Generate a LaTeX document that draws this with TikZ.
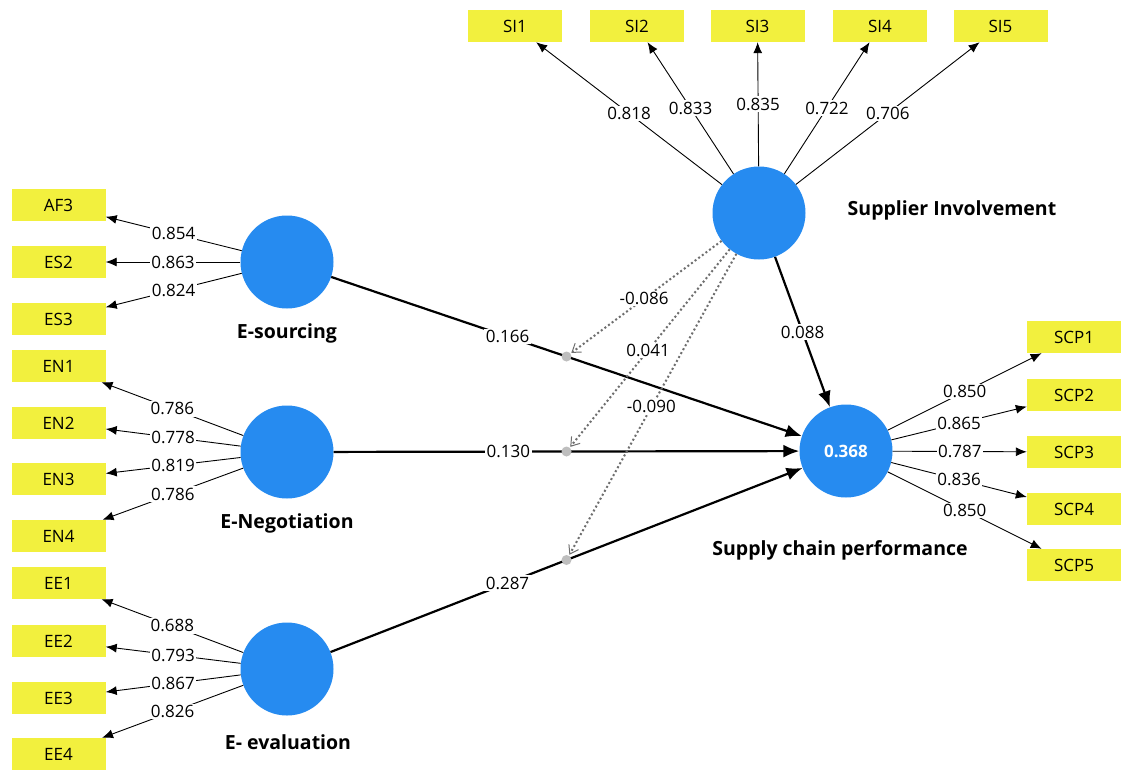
\documentclass[tikz,border=0pt]{standalone}
\usepackage{fontspec}
\setmainfont{Open Sans}
\usetikzlibrary{arrows.meta,calc}
\definecolor{indy}{RGB}{242,240,62}
\definecolor{lvb}{RGB}{38,139,240}
\definecolor{modg}{RGB}{110,110,110}
\tikzset{
 ind/.style={rectangle, fill=indy, minimum width=94pt, minimum height=32pt, inner sep=0pt, font=\fontsize{17}{19}\selectfont},
 lv/.style={circle, fill=lvb, minimum size=93pt, inner sep=0pt},
 lvname/.style={font=\fontsize{19.5}{22}\selectfont\bfseries},
 load/.style={draw=black, line width=0.9pt, -{Latex[length=11pt,width=9pt]}},
 struct/.style={draw=black, line width=2.2pt, -{Latex[length=16pt,width=13pt]}},
 modl/.style={draw=modg, line width=2pt, dash pattern=on 2pt off 2.5pt, -{Straight Barb[length=8pt,width=11pt,line width=1pt]}, shorten >=6pt},
 val/.style={fill=white, inner sep=1.5pt, font=\fontsize{17}{19}\selectfont},
}
\begin{document}
\begin{tikzpicture}[x=1pt,y=-1pt]
\useasboundingbox[fill=white] (0,0) rectangle (1121,769);
% latent variables
\node[lv] (es) at (287,262) {};
\node[lv] (en) at (287,452) {};
\node[lv] (ee) at (287,669) {};
\node[lv] (si) at (759,213) {};
\node[lv, text=white, font=\fontsize{17}{19}\selectfont\bfseries] (scp) at (846,451) {0.368};
% latent names
\node[lvname] (esn) at (287,333) {E-sourcing};
\node[lvname] (enn) at (287,523) {E-Negotiation};
\node[lvname] (een) at (288,742) {E- evaluation};
\node[lvname] (sin) at (952,210) {Supplier Involvement};
\node[lvname] (scpn) at (840,550) {Supply chain performance};
% indicators left
\node[ind] (af3) at (58.5,205) {AF3};
\node[ind] (es2) at (58.5,262) {ES2};
\node[ind] (es3) at (58.5,319) {ES3};
\node[ind] (en1) at (58.5,366) {EN1};
\node[ind] (en2) at (58.5,423) {EN2};
\node[ind] (en3) at (58.5,479) {EN3};
\node[ind] (en4) at (58.5,536) {EN4};
\node[ind] (ee1) at (58.5,583) {EE1};
\node[ind] (ee2) at (58.5,641) {EE2};
\node[ind] (ee3) at (58.5,698) {EE3};
\node[ind] (ee4) at (58.5,754) {EE4};
% indicators top
\node[ind] (si1) at (515,26) {SI1};
\node[ind] (si2) at (637,26) {SI2};
\node[ind] (si3) at (757.5,26) {SI3};
\node[ind] (si4) at (880,26) {SI4};
\node[ind] (si5) at (1000.5,26) {SI5};
% indicators right
\node[ind] (scp1) at (1074,337) {SCP1};
\node[ind] (scp2) at (1074,395) {SCP2};
\node[ind] (scp3) at (1074,452) {SCP3};
\node[ind] (scp4) at (1074,509) {SCP4};
\node[ind] (scp5) at (1074,565) {SCP5};
% loadings
\draw[load] (es) -- node[val]{0.854} (af3);
\draw[load] (es) -- node[val]{0.863} (es2);
\draw[load] (es) -- node[val]{0.824} (es3);
\draw[load] (en) -- node[val]{0.786} (en1);
\draw[load] (en) -- node[val]{0.778} (en2);
\draw[load] (en) -- node[val]{0.819} (en3);
\draw[load] (en) -- node[val]{0.786} (en4);
\draw[load] (ee) -- node[val]{0.688} (ee1);
\draw[load] (ee) -- node[val]{0.793} (ee2);
\draw[load] (ee) -- node[val]{0.867} (ee3);
\draw[load] (ee) -- node[val]{0.826} (ee4);
\draw[load] (si) -- node[val]{0.818} (si1);
\draw[load] (si) -- node[val]{0.833} (si2);
\draw[load] (si) -- node[val]{0.835} (si3);
\draw[load] (si) -- node[val]{0.722} (si4);
\draw[load] (si) -- node[val]{0.706} (si5);
\draw[load] (scp) -- node[val]{0.850} (scp1);
\draw[load] (scp) -- node[val]{0.865} (scp2);
\draw[load] (scp) -- node[val]{0.787} (scp3);
\draw[load] (scp) -- node[val]{0.836} (scp4);
\draw[load] (scp) -- node[val]{0.850} (scp5);
% structural paths
\draw[struct] (es) -- node[val,pos=0.375]{0.166} (scp);
\draw[struct] (en) -- node[val,pos=0.375]{0.130} (scp);
\draw[struct] (ee) -- node[val,pos=0.375]{0.287} (scp);
\draw[struct] (si) -- node[val]{0.088} (scp);
% moderation
\coordinate (m1) at ($(es)!0.5!(scp)$);
\coordinate (m2) at ($(en)!0.5!(scp)$);
\coordinate (m3) at ($(ee)!0.5!(scp)$);
\fill[modg!45] (m1) circle (5pt);
\fill[modg!45] (m2) circle (5pt);
\fill[modg!45] (m3) circle (5pt);
\draw[modl] (si) -- node[val]{-0.086} (m1);
\draw[modl] (si) -- node[val]{0.041} (m2);
\draw[modl] (si) -- node[val]{-0.090} (m3);
\end{tikzpicture}
\end{document}
